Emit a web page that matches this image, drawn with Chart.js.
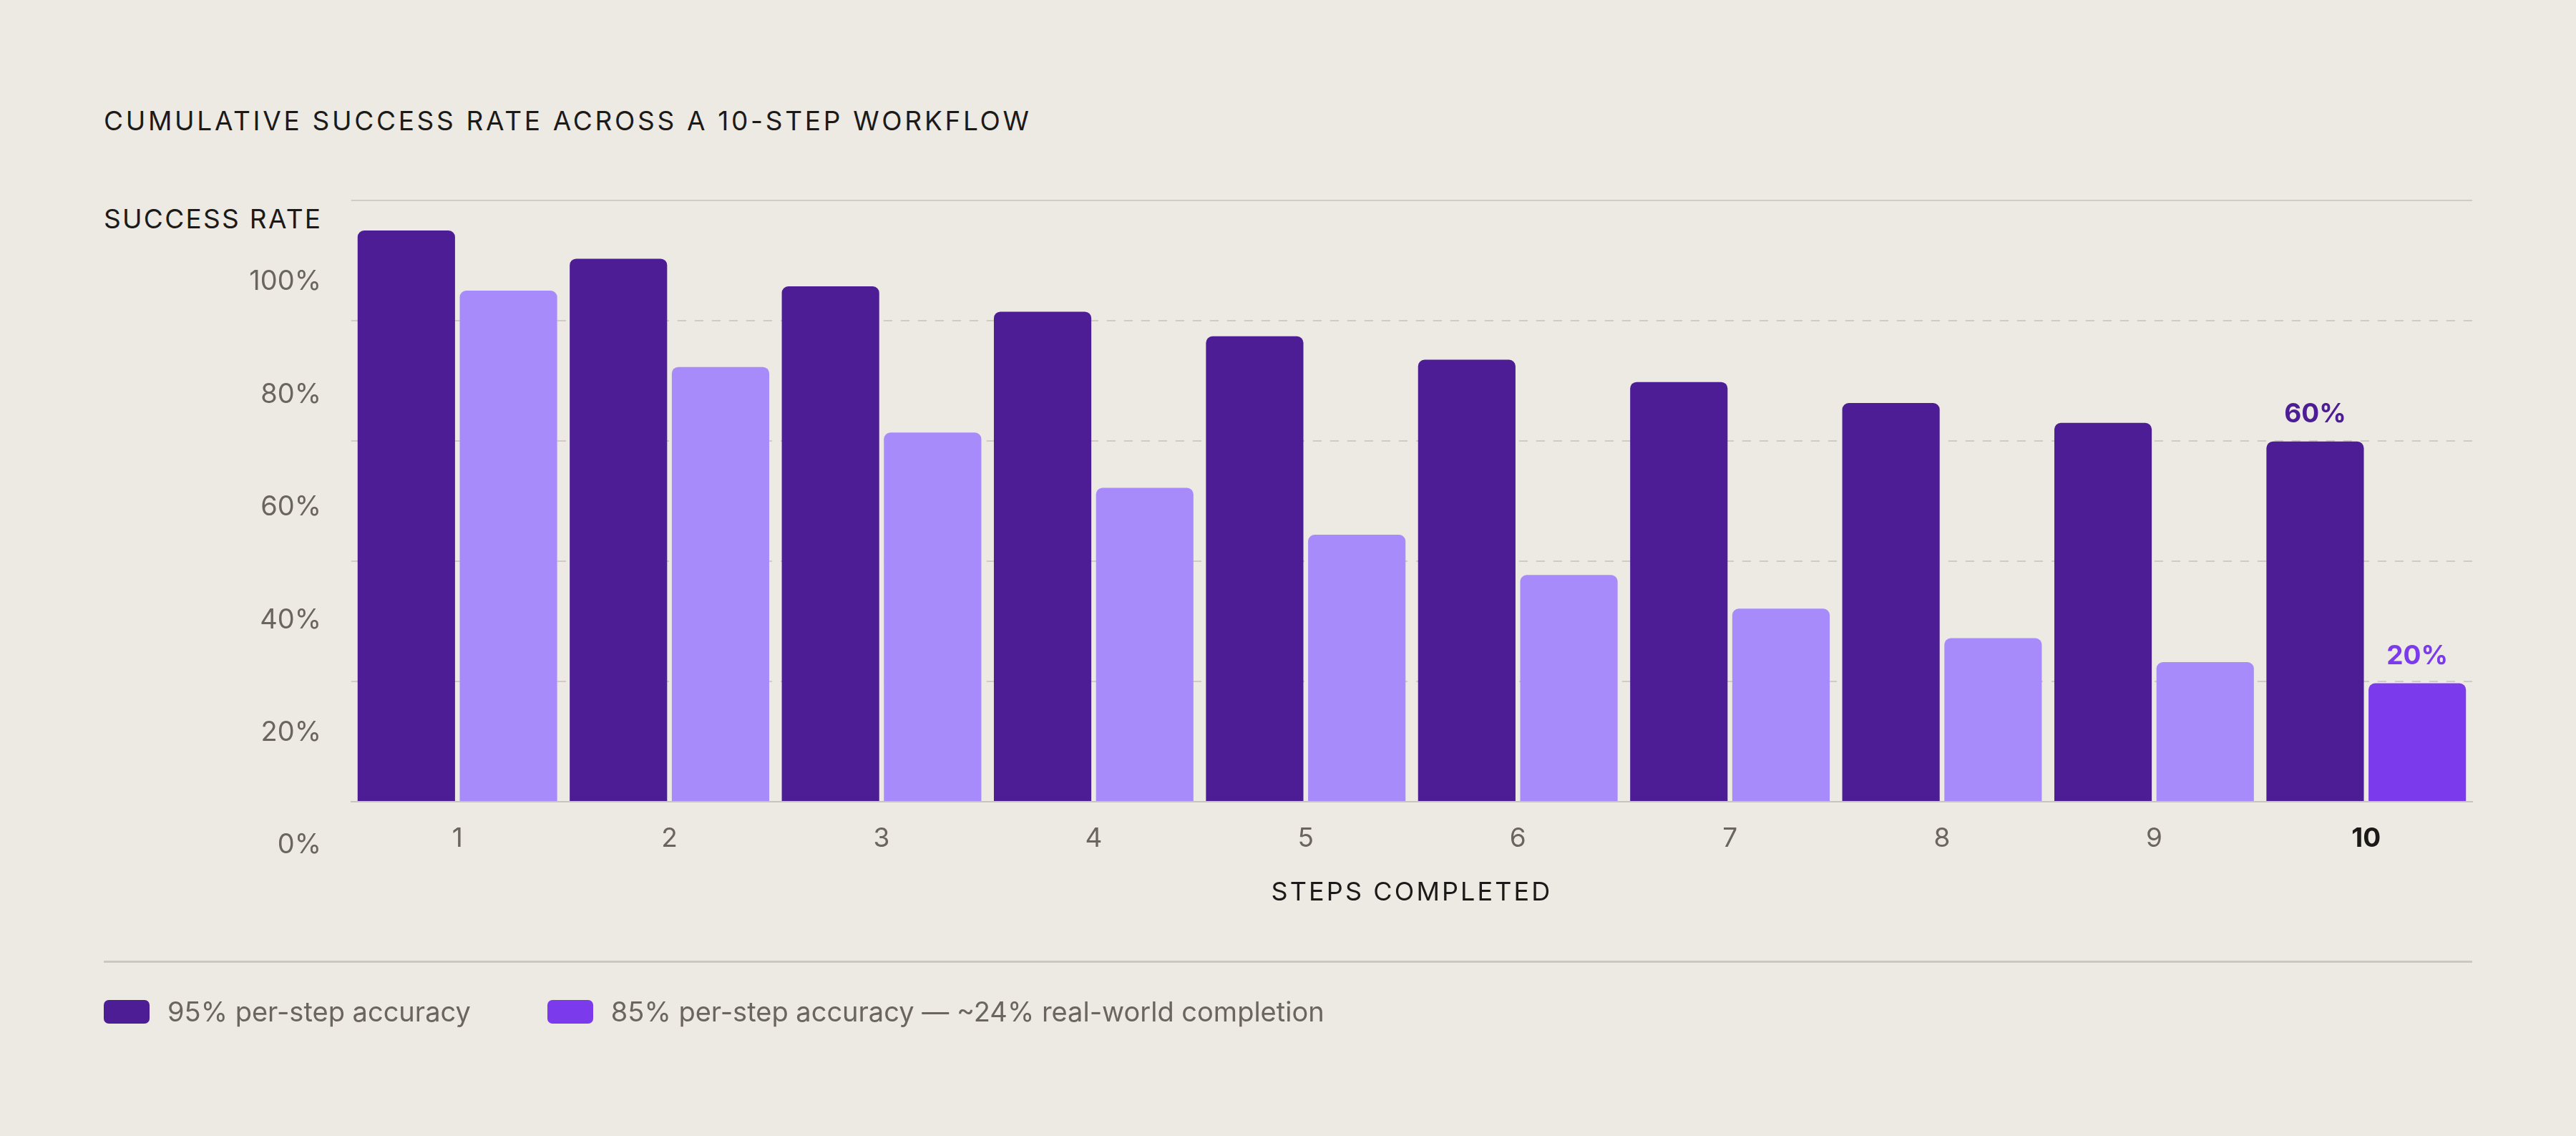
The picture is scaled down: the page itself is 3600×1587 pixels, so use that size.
<!DOCTYPE html>
<html>
<head>
<meta charset="utf-8">
<script src="https://cdn.jsdelivr.net/npm/chart.js@4.4.1/dist/chart.umd.min.js"></script>
<style>
  html, body { margin: 0; padding: 0; background: #edeae4; }
  #wrap { position: relative; width: 3600px; height: 1587px; font-family: Inter, sans-serif; }
  #grafico { position: absolute; left: 0; top: 0; }
  .cap { position: absolute; left: 145px; font-size: 37px; line-height: 1; color: #1c1a18; white-space: nowrap; }
  #titulo { top: 150px; letter-spacing: 3.7px; }
  #subtitulo { top: 287px; letter-spacing: 2.3px; }
  #leyenda { position: absolute; left: 145px; right: 145px; top: 1342px; border-top: 3px solid #ccc8c1;
             padding-top: 45px; display: flex; gap: 107px; font-size: 38px; color: #6b6560; }
  .item { display: flex; align-items: center; gap: 25px; }
  .caja { width: 64px; height: 33px; border-radius: 7px; }
</style>
</head>
<body>
<div id="wrap">
  <div class="cap" id="titulo">CUMULATIVE SUCCESS RATE ACROSS A 10-STEP WORKFLOW</div>
  <div class="cap" id="subtitulo">SUCCESS RATE</div>
  <canvas id="grafico" width="3600" height="1587"></canvas>
  <div id="leyenda"></div>
</div>
<script>
const grafico = document.getElementById('grafico');
const leyenda = document.getElementById('leyenda');

// pasos del flujo y tasa acumulada (%)
const pasos = ['1', '2', '3', '4', '5', '6', '7', '8', '9', '10'];
const exito95 = [95, 90.3, 85.7, 81.5, 77.4, 73.5, 69.8, 66.3, 63.0, 59.9];
const exito85 = [85, 72.3, 61.4, 52.2, 44.4, 37.7, 32.1, 27.2, 23.2, 19.7];
const ticksY = [0, 20, 40, 60, 80, 100];
const etiquetas = ['95% per-step accuracy', '85% per-step accuracy \u2014 ~24% real-world completion'];
const etiquetasFinales = ['60%', '20%'];

const morado = '#4c1d95';
const lila = '#a78bfa';
const violeta = '#7c3aed';
const coloresLeyenda = [morado, violeta];
const grisTexto = '#6b6560';
const negro = '#1c1a18';
const grisLinea = '#d0ccc5';

// leyenda en html
etiquetas.forEach((texto, i) => {
  const item = document.createElement('div');
  item.className = 'item';
  const caja = document.createElement('span');
  caja.className = 'caja';
  caja.style.background = coloresLeyenda[i];
  const span = document.createElement('span');
  span.textContent = texto;
  item.appendChild(caja);
  item.appendChild(span);
  leyenda.appendChild(item);
});

// texto "60%" / "20%" encima de las ultimas barras
const etiquetasPlugin = {
  id: 'etiquetasFinales',
  afterDatasetsDraw(chart) {
    const ctx = chart.ctx;
    chart.data.datasets.forEach((ds, i) => {
      const meta = chart.getDatasetMeta(i);
      const barra = meta.data[meta.data.length - 1];
      ctx.save();
      ctx.font = '700 37px Inter';
      ctx.fillStyle = coloresLeyenda[i];
      ctx.textAlign = 'center';
      ctx.textBaseline = 'alphabetic';
      ctx.fillText(etiquetasFinales[i], barra.x, barra.y - 27);
      ctx.restore();
    });
  }
};

// espaciado de letras en el titulo del eje x
const espaciado = {
  id: 'espaciado',
  afterLayout(chart) {
    const s = chart.scales.x;
    if (s._espaciado) return;
    const original = s.drawTitle.bind(s);
    s.drawTitle = function () {
      const c = this.ctx;
      c.save();
      c.letterSpacing = '3.1px';
      original();
      c.restore();
    };
    s._espaciado = true;
  }
};

const ultimo = pasos.length - 1;

new Chart(grafico, {
  type: 'bar',
  data: {
    labels: pasos,
    datasets: [
      {
        label: etiquetas[0],
        data: exito95,
        backgroundColor: morado,
        borderRadius: 9,
        borderSkipped: 'start'
      },
      {
        label: etiquetas[1],
        data: exito85,
        backgroundColor: pasos.map((p, i) => i === ultimo ? violeta : lila),
        borderRadius: 9,
        borderSkipped: 'start'
      }
    ]
  },
  options: {
    responsive: false,
    devicePixelRatio: 1,
    animation: false,
    categoryPercentage: 0.963,
    barPercentage: 0.954,
    layout: { padding: { left: 142, right: 145, top: 280, bottom: 247 } },
    plugins: {
      legend: { display: false },
      title: { display: false },
      tooltip: { enabled: false }
    },
    scales: {
      x: {
        grid: { display: false },
        border: { display: true, color: '#c9c5be', width: 2 },
        ticks: {
          padding: 22,
          color: ctx => ctx.index === ultimo ? negro : grisTexto,
          font: ctx => ({ family: 'Inter', size: 37, weight: ctx.index === ultimo ? 700 : 400 })
        },
        title: {
          display: true,
          text: 'STEPS COMPLETED',
          color: negro,
          font: { family: 'Inter', size: 36 },
          padding: { top: 0, bottom: 71 }
        },
        afterFit: s => { s.height = 220; }
      },
      y: {
        position: 'left',
        min: 0,
        max: 100,
        grid: {
          color: ctx => ctx.tick && ctx.tick.value === 0 ? 'rgba(0,0,0,0)' : grisLinea,
          lineWidth: 2,
          drawTicks: false
        },
        border: {
          display: false,
          dash: ctx => ctx.tick && ctx.tick.value === 100 ? [] : [12, 12]
        },
        ticks: { display: false, stepSize: 20 },
        afterFit: s => { s.width = 0; }
      },
      pct: {
        position: 'left',
        min: 0,
        max: 106.7,
        grid: { display: false, drawTicks: false },
        border: { display: false },
        ticks: {
          includeBounds: false,
          labelOffset: 61,
          padding: 42,
          color: grisTexto,
          font: { family: 'Inter', size: 38 },
          callback: v => v + '%'
        },
        afterBuildTicks: s => { s.ticks = ticksY.map(v => ({ value: v })); },
        afterFit: s => { s.width = 349; }
      }
    }
  },
  plugins: [etiquetasPlugin, espaciado]
});
</script>
</body>
</html>
